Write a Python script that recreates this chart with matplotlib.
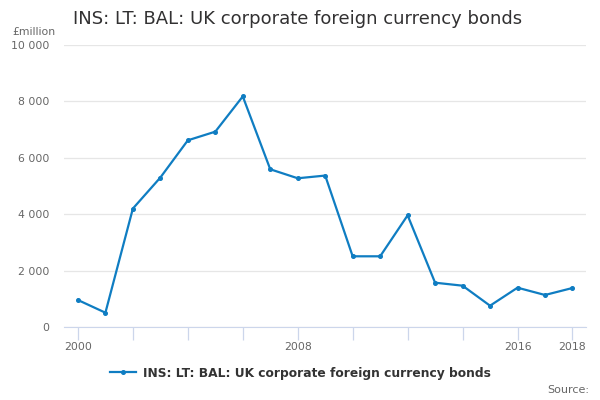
import matplotlib
matplotlib.use("Agg")
import matplotlib.pyplot as plt
from matplotlib.ticker import FuncFormatter

years = list(range(2000, 2019))
values = [957, 507, 4200, 5300, 6620, 6927, 8177, 5593, 5274, 5370,
          2507, 2507, 3960, 1571, 1465, 755, 1394, 1135, 1383]
label_years = [2000, 2008, 2016, 2018]
series_name = "INS: LT: BAL: UK corporate foreign currency bonds"

line_color = "#0f7dc2"
text_grey = "#666666"

fig = plt.figure(figsize=(6, 4), dpi=100)
ax = fig.add_axes([0.107, 0.1825, 0.87, 0.705])

ax.plot(years, values, color=line_color, linewidth=1.6, marker="o",
        markersize=2.6, label=series_name, zorder=3)

ax.set_xlim(1999.5, 2018.5)
ax.set_ylim(0, 10000)
ax.set_yticks(range(0, 10001, 2000))
ax.yaxis.set_major_formatter(FuncFormatter(lambda v, p: f"{int(v):,}".replace(",", " ")))
ax.grid(axis="y", color="#e6e6e6", linewidth=0.9)
ax.set_axisbelow(True)

# minor ticks every two years, labels only on a few
ax.set_xticks(range(2000, 2019, 2), minor=True)
ax.set_xticks(label_years)
ax.tick_params(axis="x", which="both", direction="out", length=9,
               color="#ccd6eb", width=0.9, labelsize=7.8, labelcolor=text_grey, pad=2)
ax.tick_params(axis="y", length=0, labelsize=7.8, labelcolor=text_grey, pad=11)

for side in ["top", "right", "left"]:
    ax.spines[side].set_visible(False)
ax.spines["bottom"].set_color("#ccd6eb")

fig.text(0.122, 0.952, series_name, fontsize=13, color="#323132", va="center")
fig.text(0.02, 0.92, "£million", fontsize=7.8, color=text_grey, va="center")
fig.text(0.982, 0.025, "Source:", fontsize=8, color=text_grey, ha="right", va="center")

leg = fig.legend(loc="center", bbox_to_anchor=(0.5, 0.067), frameon=False,
                 fontsize=8.8, handlelength=2.2, handletextpad=0.5)
for t in leg.get_texts():
    t.set_fontweight("bold")
    t.set_color("#333333")

fig.savefig("out.png", dpi=100)
